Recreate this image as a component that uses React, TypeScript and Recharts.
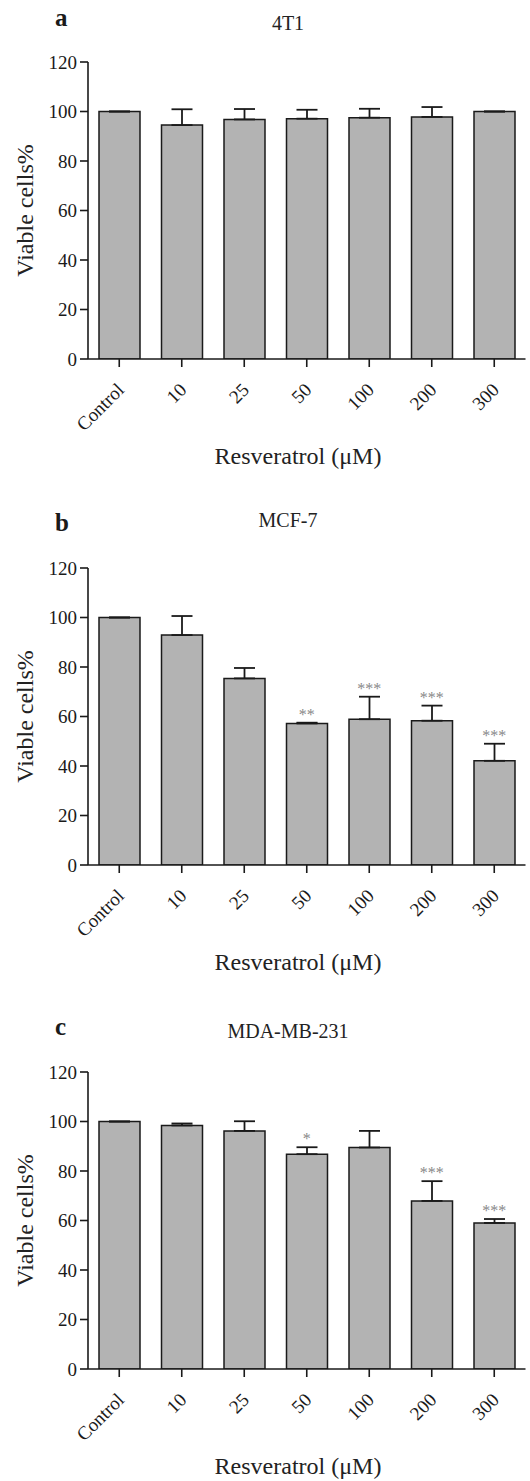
import { ComposedChart, Bar, ErrorBar, XAxis, YAxis, Line, LabelList } from "recharts";

const doses = ["Control", "10", "25", "50", "100", "200", "300"];
const yTicks = [0, 20, 40, 60, 80, 100, 120];

// 4T1
const viability4T1 = [100, 94.5, 96.8, 97.1, 97.5, 97.8, 100];
const sd4T1 = [0, 6.4, 4.2, 3.6, 3.6, 4.0, 0];
const stars4T1 = ["", "", "", "", "", "", ""];

// MCF-7
const viabilityMCF7 = [100, 92.9, 75.4, 57.2, 58.9, 58.3, 42.1];
const sdMCF7 = [0, 7.7, 4.2, 0.3, 9.1, 6.1, 6.9];
const starsMCF7 = ["", "", "", "**", "***", "***", "***"];

// MDA-MB-231
const viabilityMDA = [100, 98.4, 96.2, 86.8, 89.5, 67.9, 59.0];
const sdMDA = [0, 0.8, 3.9, 2.8, 6.7, 8.0, 1.6];
const starsMDA = ["", "", "", "*", "", "***", "***"];

const FONT = '"Liberation Serif", "Times New Roman", serif';
const INK = "#1a1a1a";
const PLOT_H = 297;
const TOP_PAD = 20;
const X_AXIS_H = 90;

interface PanelProps {
  letter: string;
  title: string;
  values: number[];
  sd: number[];
  stars: string[];
  top: number; // page y of the 120 tick
  letterY: number;
  titleY: number;
}

const AngledTick = (props: any) => {
  const { x, y, payload } = props;
  return (
    <g transform={`translate(${x},${y})`}>
      <text
        x={6}
        y={22}
        textAnchor="end"
        transform="rotate(-45, 6, 22)"
        fontFamily={FONT}
        fontSize={19}
        fill={INK}
      >
        {payload.value}
      </text>
    </g>
  );
};

function Panel({ letter, title, values, sd, stars, top, letterY, titleY }: PanelProps) {
  const data = doses.map((d, i) => ({
    dose: d,
    value: values[i],
    err: [0, sd[i]],
    capTop: values[i] + sd[i],
    stars: stars[i],
  }));
  const zeroY = top + PLOT_H;

  return (
    <>
      <svg
        width={530}
        height={1481}
        style={{ position: "absolute", left: 0, top: 0, pointerEvents: "none" }}
      >
        <text x={55} y={letterY} fontFamily={FONT} fontSize={25} fontWeight="bold" fill={INK}>
          {letter}
        </text>
        <text x={288} y={titleY} textAnchor="middle" fontFamily={FONT} fontSize={20} fill="#222">
          {title}
        </text>
        <text
          x={33}
          y={top + PLOT_H / 2}
          textAnchor="middle"
          transform={`rotate(-90, 33, ${top + PLOT_H / 2})`}
          fontFamily={FONT}
          fontSize={24}
          fill="#222"
        >
          Viable cells%
        </text>
        <text x={298} y={zeroY + 105} textAnchor="middle" fontFamily={FONT} fontSize={24} fill="#222">
          Resveratrol (μM)
        </text>
      </svg>
      <div style={{ position: "absolute", left: 0, top: top - TOP_PAD }}>
        <ComposedChart
          width={530}
          height={TOP_PAD + PLOT_H + X_AXIS_H}
          data={data}
          margin={{ top: TOP_PAD, right: 4.5, bottom: 0, left: 0 }}
        >
          <XAxis
            dataKey="dose"
            height={X_AXIS_H}
            interval={0}
            tickSize={8}
            tickMargin={2}
            tick={<AngledTick />}
            axisLine={{ stroke: INK, strokeWidth: 1.6 }}
            tickLine={{ stroke: INK, strokeWidth: 1.6 }}
          />
          <YAxis
            width={88}
            domain={[0, 120]}
            ticks={yTicks}
            allowDataOverflow
            tickSize={8}
            tickMargin={3}
            tick={{ fontFamily: FONT, fontSize: 19, fill: INK }}
            axisLine={{ stroke: INK, strokeWidth: 1.6 }}
            tickLine={{ stroke: INK, strokeWidth: 1.6 }}
          />
          <Bar
            dataKey="value"
            fill="#b3b3b3"
            stroke={INK}
            strokeWidth={1.5}
            barSize={41}
            isAnimationActive={false}
          >
            <ErrorBar
              dataKey="err"
              direction="y"
              width={10.5}
              stroke={INK}
              strokeWidth={1.8}
              isAnimationActive={false}
            />
          </Bar>
          <Line
            dataKey="capTop"
            stroke="none"
            dot={false}
            activeDot={false}
            legendType="none"
            isAnimationActive={false}
          >
            <LabelList
              dataKey="stars"
              position="top"
              offset={3}
              fill="#888"
              fontSize={16}
              fontFamily={FONT}
            />
          </Line>
        </ComposedChart>
      </div>
    </>
  );
}

export default function App() {
  return (
    <div style={{ position: "relative", width: 530, height: 1481, background: "#fff" }}>
      <style>{"body{margin:0}"}</style>
      <Panel
        letter="a"
        title="4T1"
        values={viability4T1}
        sd={sd4T1}
        stars={stars4T1}
        top={62}
        letterY={26}
        titleY={30}
      />
      <Panel
        letter="b"
        title="MCF-7"
        values={viabilityMCF7}
        sd={sdMCF7}
        stars={starsMCF7}
        top={568}
        letterY={531}
        titleY={527}
      />
      <Panel
        letter="c"
        title="MDA-MB-231"
        values={viabilityMDA}
        sd={sdMDA}
        stars={starsMDA}
        top={1072}
        letterY={1035}
        titleY={1038}
      />
    </div>
  );
}
